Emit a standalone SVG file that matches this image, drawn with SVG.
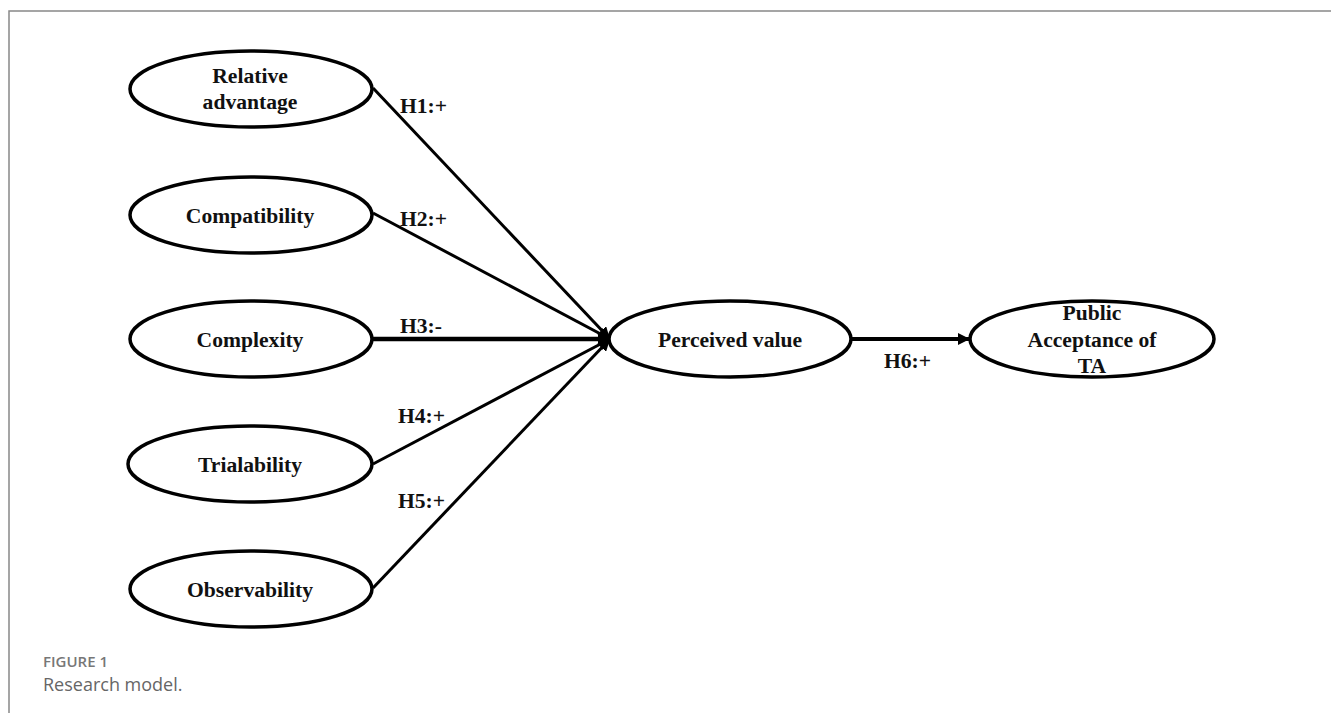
<svg xmlns="http://www.w3.org/2000/svg" width="1331" height="713" viewBox="0 0 1331 713">
<style>
.node ellipse{fill:#fff;stroke:#000;stroke-width:3.5}
.t{font-family:"Liberation Serif","Times New Roman",serif;font-weight:bold;font-size:21.6px;fill:#111;text-anchor:middle}
.lbl{font-family:"Liberation Serif","Times New Roman",serif;font-weight:bold;font-size:21.6px;fill:#111}
.c line{stroke:#000;stroke-width:3}
.cap1{font-family:"Open Sans","Noto Sans",sans-serif;font-size:15px;font-weight:600;fill:#777}
.cap2{font-family:"Open Sans","Noto Sans",sans-serif;font-size:18px;fill:#666}
</style>
<defs>
<marker id="ah" viewBox="0 0 10 10" refX="10" refY="5" markerWidth="12" markerHeight="12" orient="auto" markerUnits="userSpaceOnUse">
<path d="M0,0 L10,5 L0,10 z" fill="#000"/>
</marker>
</defs>
<rect width="1331" height="713" fill="#fff"/>
<path d="M9,713 V11 H1331" fill="none" stroke="#888" stroke-width="1.5"/>
<g class="c" id="connectors">
<line x1="373" y1="88" x2="610" y2="339" marker-end="url(#ah)"/>
<line x1="373" y1="213" x2="610" y2="339" marker-end="url(#ah)"/>
<line x1="373" y1="339" x2="610" y2="339" style="stroke-width:4.5" marker-end="url(#ah)"/>
<line x1="373" y1="464" x2="610" y2="339" marker-end="url(#ah)"/>
<line x1="373" y1="588" x2="610" y2="339" marker-end="url(#ah)"/>
<line x1="850" y1="339" x2="970" y2="339" style="stroke-width:4" marker-end="url(#ah)"/>
<text class="lbl" x="400" y="113">H1:+</text>
<text class="lbl" x="400" y="226">H2:+</text>
<text class="lbl" x="400" y="333">H3:-</text>
<text class="lbl" x="398" y="423">H4:+</text>
<text class="lbl" x="398" y="508">H5:+</text>
<text class="lbl" x="884" y="368">H6:+</text>
</g>
<g class="node" id="relative-advantage">
<ellipse cx="251" cy="89" rx="121" ry="38"/>
<text class="t" x="250" y="83">Relative</text>
<text class="t" x="250" y="109">advantage</text>
</g>
<g class="node" id="compatibility">
<ellipse cx="251" cy="215" rx="121" ry="38"/>
<text class="t" x="250" y="223">Compatibility</text>
</g>
<g class="node" id="complexity">
<ellipse cx="251" cy="339" rx="121" ry="38"/>
<text class="t" x="250" y="347">Complexity</text>
</g>
<g class="node" id="trialability">
<ellipse cx="250" cy="464" rx="122" ry="38"/>
<text class="t" x="250" y="472">Trialability</text>
</g>
<g class="node" id="observability">
<ellipse cx="251" cy="589" rx="121" ry="38"/>
<text class="t" x="250" y="597">Observability</text>
</g>
<g class="node" id="perceived-value">
<ellipse cx="730" cy="339" rx="121" ry="38"/>
<text class="t" x="730" y="347">Perceived value</text>
</g>
<g class="node" id="public-acceptance">
<ellipse cx="1092" cy="339" rx="122" ry="38"/>
<text class="t" x="1092" y="320">Public</text>
<text class="t" x="1092" y="347">Acceptance of</text>
<text class="t" x="1092" y="373">TA</text>
</g>
<text class="cap1" x="43" y="667">FIGURE 1</text>
<text class="cap2" x="43" y="691">Research model.</text>
</svg>
